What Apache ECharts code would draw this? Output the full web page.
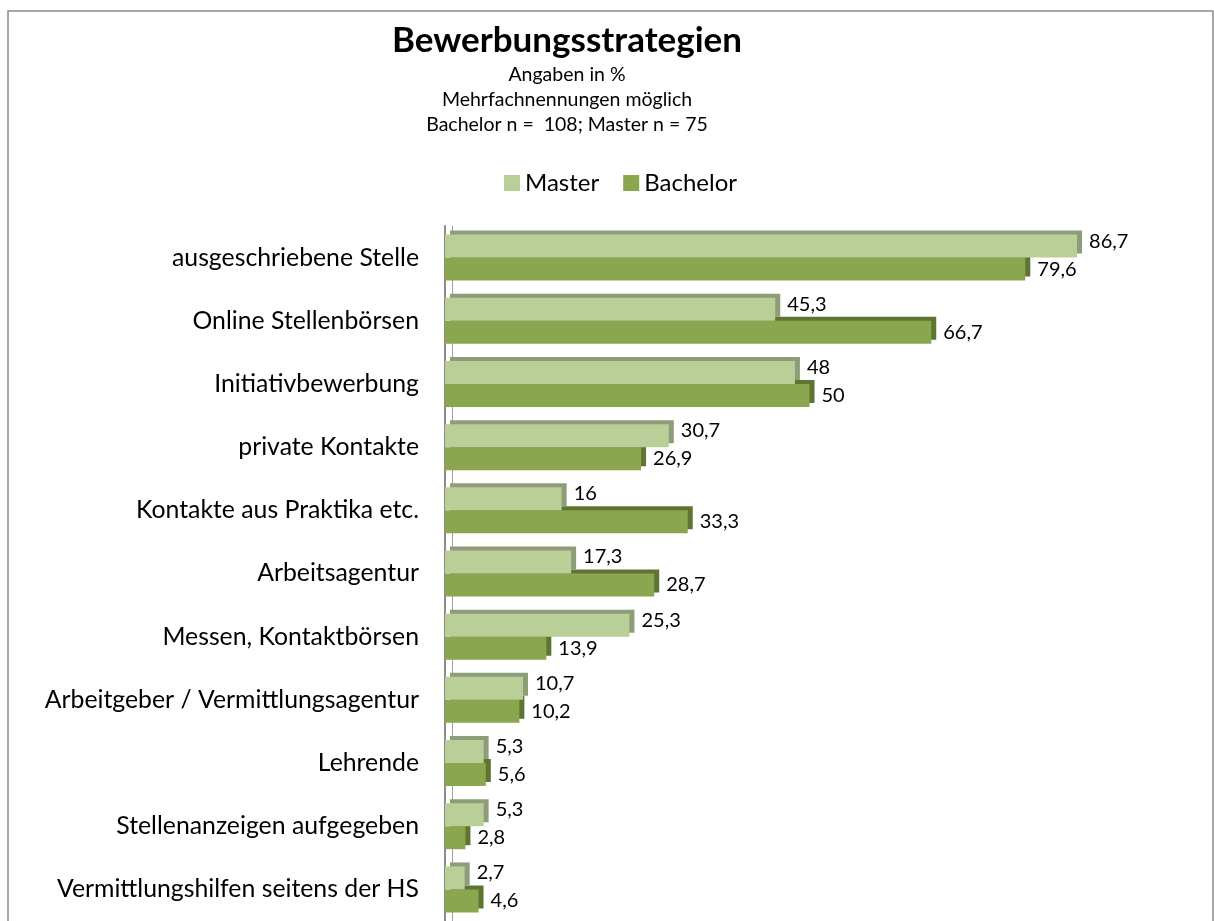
<!DOCTYPE html>
<html>
<head>
<meta charset="utf-8">
<script src="https://cdn.jsdelivr.net/npm/echarts@6/dist/echarts.min.js"></script>
<style>
  html, body { margin: 0; padding: 0; background: #fff; }
  #chart { width: 1214px; height: 921px; }
</style>
</head>
<body>
<div id="chart"></div>
<script>
var categories = [
  "ausgeschriebene Stelle",
  "Online Stellenbörsen",
  "Initiativbewerbung",
  "private Kontakte",
  "Kontakte aus Praktika etc.",
  "Arbeitsagentur",
  "Messen, Kontaktbörsen",
  "Arbeitgeber / Vermittlungsagentur",
  "Lehrende",
  "Stellenanzeigen aufgegeben",
  "Vermittlungshilfen seitens der HS"
];
var masterValues = [86.7, 45.3, 48, 30.7, 16, 17.3, 25.3, 10.7, 5.3, 5.3, 2.7];
var bachelorValues = [79.6, 66.7, 50, 26.9, 33.3, 28.7, 13.9, 10.2, 5.6, 2.8, 4.6];

var FONT = "Lato, 'Open Sans', sans-serif";

function fmt(p) {
  return String(p.value).replace(".", ",");
}

var chart = echarts.init(document.getElementById("chart"));

var options = {
  backgroundColor: "#ffffff",
  animation: false,
  color: ["#b9cf97", "#8aa64e"],
  title: {
    text: "Bewerbungsstrategien",
    subtext: "Angaben in %\nMehrfachnennungen möglich\nBachelor n =  108; Master n = 75",
    left: 562,
    top: 18,
    textAlign: "center",
    itemGap: 4,
    textStyle: { fontFamily: FONT, fontSize: 35, fontWeight: "bold", color: "#000" },
    subtextStyle: { fontFamily: FONT, fontSize: 19.5, color: "#000", lineHeight: 25 }
  },
  legend: {
    left: 499,
    top: 166,
    itemWidth: 16,
    itemHeight: 16,
    itemGap: 24,
    icon: "rect",
    textStyle: { fontFamily: FONT, fontSize: 24, color: "#000" },
    data: ["Master", "Bachelor"]
  },
  grid: { left: 445, top: 226, height: 698, right: 40 },
  xAxis: {
    type: "value",
    min: 0,
    max: 100,
    show: false
  },
  yAxis: [
    {
      type: "category",
      data: categories,
      inverse: true,
      axisLine: { show: true, lineStyle: { color: "#8c8c8c", width: 2 } },
      axisTick: { show: false },
      axisLabel: { fontFamily: FONT, fontSize: 24.8, color: "#000", margin: 26 }
    },
    {
      type: "category",
      data: categories,
      inverse: true,
      position: "left",
      offset: -7,
      axisLine: { show: true, lineStyle: { color: "#a0a0a0", width: 1 } },
      axisTick: { show: false },
      axisLabel: { show: false }
    }
  ],
  series: [
    {
      name: "Master",
      type: "bar",
      z: 3,
      barWidth: 23,
      barGap: "0%",
      data: masterValues,
      itemStyle: {
        shadowColor: "#8e9c79",
        shadowBlur: 0,
        shadowOffsetX: 5,
        shadowOffsetY: -4
      },
      label: {
        show: true,
        position: "right",
        distance: 12,
        offset: [0, -5],
        fontFamily: FONT,
        fontSize: 20,
        color: "#000",
        formatter: fmt
      }
    },
    {
      name: "Bachelor",
      type: "bar",
      z: 2,
      barWidth: 23,
      barGap: "0%",
      data: bachelorValues,
      itemStyle: {
        shadowColor: "#5d7530",
        shadowBlur: 0,
        shadowOffsetX: 5,
        shadowOffsetY: -4
      },
      label: {
        show: true,
        position: "right",
        distance: 12,
        offset: [0, 0],
        fontFamily: FONT,
        fontSize: 20,
        color: "#000",
        formatter: fmt
      }
    }
  ],
  graphic: [
    {
      type: "rect",
      silent: true,
      shape: { x: 8, y: 11, width: 1205, height: 930 },
      style: { fill: "none", stroke: "#8a8a8a", lineWidth: 1.5 }
    }
  ]
};

chart.setOption(options);
</script>
</body>
</html>
